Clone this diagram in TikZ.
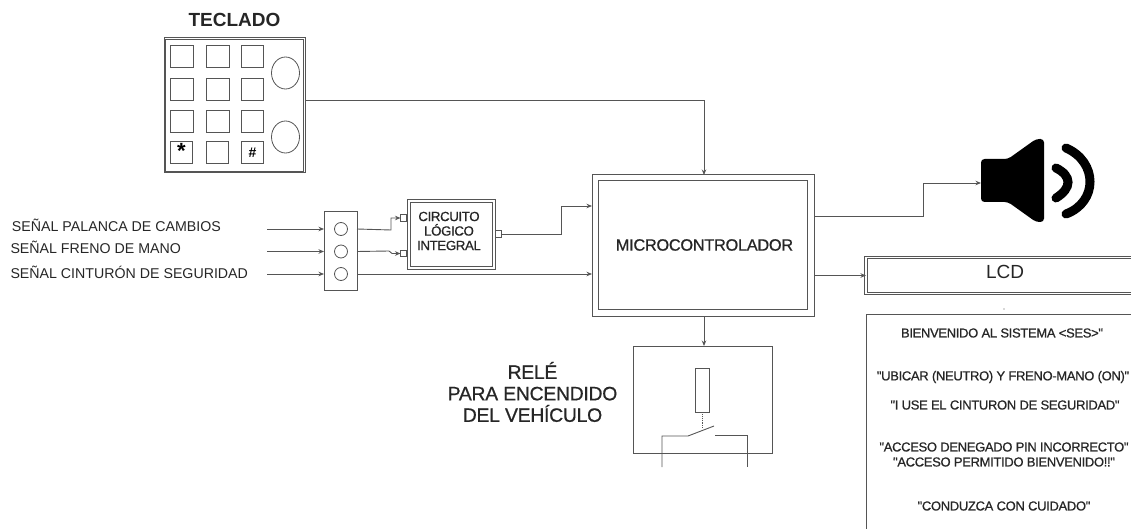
\documentclass[tikz,border=0pt]{standalone}
\usepackage{fontspec}
\setmainfont{Liberation Sans}
\newfontfamily\heavy[FakeBold=0.7]{Liberation Sans}
\usetikzlibrary{arrows.meta,calc,shapes.geometric}
\definecolor{ln}{HTML}{555555}
\definecolor{txt}{HTML}{262626}
\tikzset{
  box/.style={draw=ln,line width=1pt,inner sep=0pt,outer sep=0pt},
  lbl/.style={inner sep=0pt,outer sep=0pt,text=txt,align=center},
  conn/.style={draw=ln,line width=.9pt,-{Stealth[length=5.5pt,width=4.5pt]}},
  wire/.style={draw=ln,line width=.9pt},
  keybox/.style={box,minimum width=22.5pt,minimum height=22.5pt},
  oval/.style={draw=ln,line width=.8pt,ellipse,inner sep=0pt,outer sep=0pt,minimum width=28pt,minimum height=32pt},
  hole/.style={draw=ln,line width=.8pt,circle,inner sep=0pt,outer sep=0pt,minimum size=13pt},
  port/.style={box,minimum width=6pt,minimum height=6.5pt},
  sig/.style={lbl,anchor=west,font=\fontsize{14.2}{16}\selectfont},
  msg/.style={lbl,font=\fontsize{13}{15}\heavy\addfontfeature{LetterSpace=-2.5}},
}
\begin{document}
\begin{tikzpicture}[x=1pt,y=-1pt]
\useasboundingbox (0,0) rectangle (1131,529);
% keypad
\node[lbl,font=\fontsize{19}{21}\selectfont\bfseries] (tk) at (234.5,19.5) {TECLADO};
\node[box,minimum width=141pt,minimum height=135pt] (kb) at (234.5,105.5) {};
\node[box,minimum width=138.5pt,minimum height=132.5pt] (kbi) at (234.5,105.5) {};
\foreach \r/\yy in {1/56.5,2/89.5,3/121.5}{
  \node[keybox] (ka\r) at (182,\yy) {};
  \node[keybox] (kb\r) at (218,\yy) {};
  \node[keybox] (kc\r) at (252.5,\yy) {};
}
\node[keybox,font=\fontsize{22}{22}\selectfont\bfseries] (ka4) at (181.5,152.5) {\raisebox{-6pt}[0pt][0pt]{*}};
\node[keybox] (kb4) at (217.5,152.5) {};
\node[keybox,font=\fontsize{14}{14}\selectfont\bfseries] (kc4) at (252.5,152.5) {\#};
\node[oval] (ov1) at (285.5,73) {};
\node[oval] (ov2) at (285.5,137) {};
% microcontroller
\node[box,minimum width=222pt,minimum height=141pt] (mc) at (703,245.5) {};
\node[box,minimum width=209pt,minimum height=128pt] (mci) at (702.5,245) {};
\node[lbl,font=\fontsize{16.4}{18}\heavy\addfontfeature{LetterSpace=-2}] (mct) at (704.5,245) {MICROCONTROLADOR};
% signals
\node[sig] (s1) at (12,225) {SEÑAL PALANCA DE CAMBIOS};
\node[sig] (s2) at (10.5,247.5) {SEÑAL FRENO DE MANO};
\node[sig] (s3) at (10.5,272.5) {SEÑAL CINTURÓN DE SEGURIDAD};
\coordinate (i1) at (267,229);
\coordinate (i2) at (267,251.5);
\coordinate (i3) at (267,274);
\node[box,minimum width=33pt,minimum height=78pt] (mx) at (340.5,251) {};
\node[hole] (h1) at (341,229) {};
\node[hole] (h2) at (341,251.5) {};
\node[hole] (h3) at (341,274) {};
\draw[conn] (i1) -- (i1 -| mx.west);
\draw[conn] (i2) -- (i2 -| mx.west);
\draw[conn] (i3) -- (i3 -| mx.west);
% logic circuit
\node[box,minimum width=88pt,minimum height=69pt] (cl) at (451,234.5) {};
\node[box,minimum width=82pt,minimum height=63pt] (cli) at (451,234.5) {};
\node[lbl,font=\fontsize{13.3}{14.5}\heavy\addfontfeature{LetterSpace=-3}] (clt) at (449,231) {CIRCUITO\\LÓGICO\\INTEGRAL};
\node[port] (p1) at (403.5,218) {};
\node[port] (p2) at (403.5,253.5) {};
\node[port] (p3) at (498,234) {};
\draw[conn] (mx.east |- h1) -- (391,230) -- (391,218) -- (p1.west);
\draw[conn] (mx.east |- h2) -- (389,251) -- (392,253.5) -- (p2.west);
\draw[conn] (mx.east |- h3) -- (mc.west |- h3);
\draw[conn] (p3.east) -- (561,234) -- (561,206) -- (mc.west |- 0,206);
% relay
\node[lbl,font=\fontsize{19.4}{21.5}\heavy\addfontfeature{LetterSpace=-1.5}] (rl) at (532.5,392) {RELÉ\\PARA ENCENDIDO\\DEL VEHÍCULO};
\node[box,minimum width=139pt,minimum height=107pt] (ry) at (702.5,399.5) {};
\node[box,minimum width=14pt,minimum height=44pt] (coil) at (702,390) {};
\coordinate (sa) at (662,467);
\coordinate (sb) at (747,467);
\draw[wire] (sa) -- (662,436) -- (688,436) -- (714,426);
\draw[wire] (715,435) -- (747,435) -- (sb);
\draw[wire,densely dotted] (coil.south) -- (702,428);
\draw[conn] (704,316) -- (ry.north -| 704,0);
% keypad to micro
\draw[conn] (kb.east |- 0,100) -- (704,100) -- (mc.north -| 704,0);
% speaker
\coordinate (spk) at (981,183);
\fill[black,rounded corners=3.5pt] (981,159) -- (1008,159) -- (1036,139) -- (1044,139) -- (1044,222) -- (1036,222) -- (1008,202) -- (981,202) -- cycle;
\draw[black,line width=9pt,line cap=round] (1056,168) .. controls (1072,176) and (1072,188) .. (1056,198);
\draw[black,line width=9pt,line cap=round] (1066,148) .. controls (1098,162) and (1098,202) .. (1066,214);
\draw[conn] (mc.east |- 0,216) -- (923,216) -- (923,183) -- (spk);
% lcd
\node[lbl,minimum width=265pt,minimum height=36pt] (lcd) at (998.5,275.5) {};
\draw[draw=ln,line width=.9pt,double=white,double distance=1.6pt] (lcd.north east) -- (lcd.north west) -- (lcd.south west) -- (lcd.south east);
\node[lbl,font=\fontsize{19}{21}\selectfont] (lcdt) at (1005,272) {LCD};
\draw[conn] (mc.east |- lcd) -- (lcd.west);
\fill[ln] (1004,309) circle (.6pt);
% messages
\node[lbl,minimum width=265pt,minimum height=215pt] (ms) at (998.5,421.5) {};
\draw[draw=ln,line width=.9pt] (ms.north east) -- (ms.north west) -- (ms.south west);
\node[msg] (m1) at (1002,333) {BIENVENIDO AL SISTEMA <SES>"};
\node[msg] (m2) at (1003,377) {"UBICAR (NEUTRO) Y FRENO-MANO (ON)"};
\node[msg] (m3) at (1005,405) {"I USE EL CINTURON DE SEGURIDAD"};
\node[msg] (m4) at (1004,447) {"ACCESO DENEGADO PIN INCORRECTO"};
\node[msg] (m5) at (1004,462) {"ACCESO PERMITIDO BIENVENIDO!!"};
\node[msg] (m6) at (1004,506) {"CONDUZCA CON CUIDADO"};
\end{tikzpicture}
\end{document}
